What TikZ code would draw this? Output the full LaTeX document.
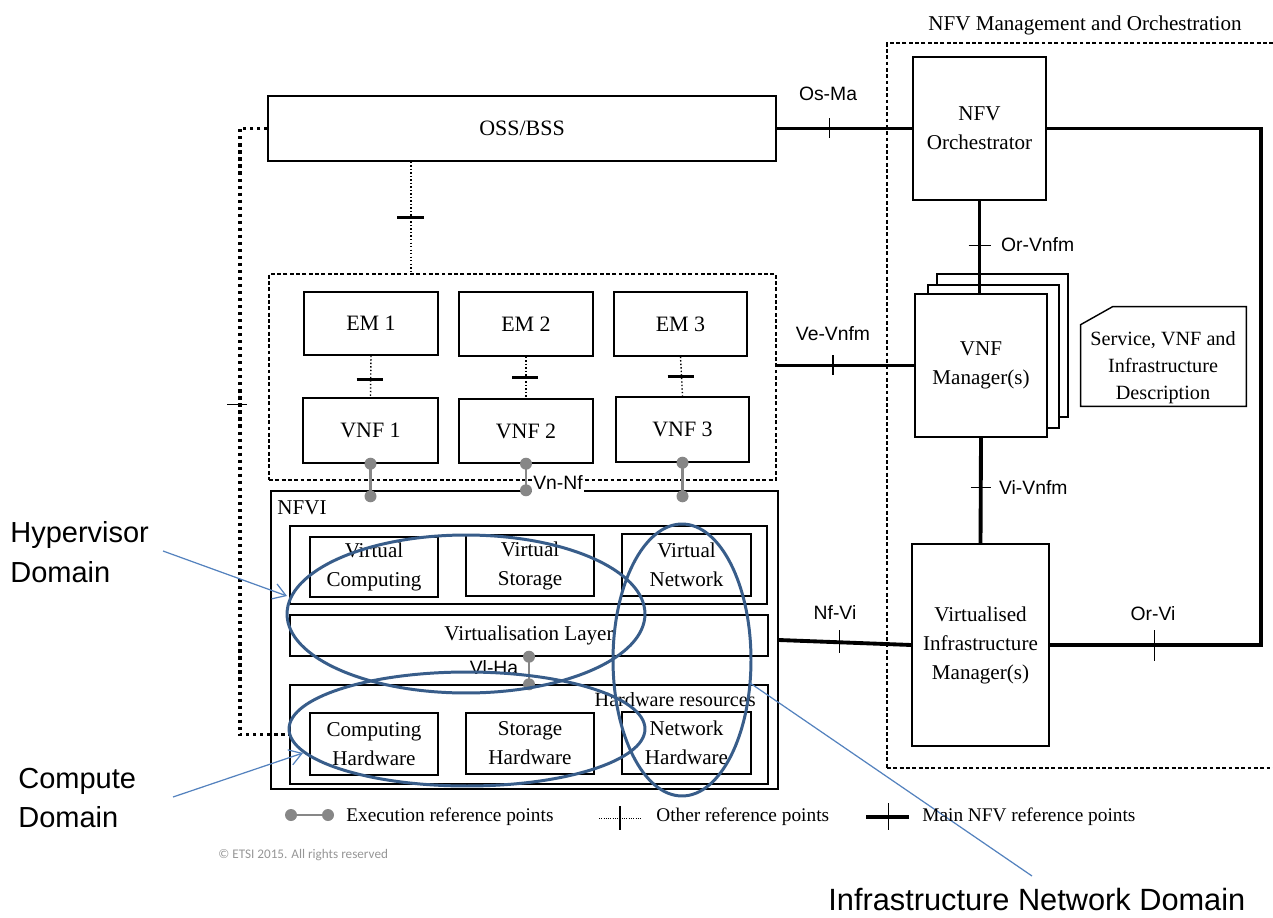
\documentclass[tikz,border=0pt]{standalone}
\usepackage{fontspec}
\setmainfont{Liberation Serif}
\newfontfamily\arialf{Liberation Sans}
\newfontfamily\calibf{Carlito}
\usetikzlibrary{arrows.meta,calc}
\definecolor{ellblue}{RGB}{56,93,138}
\definecolor{arrblue}{RGB}{84,130,190}
\definecolor{execgrey}{RGB}{135,135,135}
\definecolor{copygrey}{RGB}{150,150,150}
\newcommand\pbx[7][box]{\node[#1, minimum width={(#5-#3)*0.02cm}, minimum height={(#6-#4)*0.02cm}] (#2) at ({(#3+#5)/2},{(#4+#6)/2}) {#7};}
\begin{document}
\begin{tikzpicture}[x=0.02cm, y=-0.02cm,
  box/.style={draw, line width=0.8pt, fill=white, inner sep=0pt, align=center, font=\fontsize{12}{16.5}\selectfont},
  bigf/.style={font=\fontsize{12.5}{15}\selectfont},
  dbox/.style={draw, line width=0.6pt, dash pattern=on 2.2pt off 1.4pt, inner sep=0pt},
  main/.style={line width=2.2pt},
  otherln/.style={line width=0.8pt, dash pattern=on 0.8pt off 1.2pt},
  otherthick/.style={line width=2pt, dash pattern=on 1.8pt off 2.2pt},
  mtick/.style={line width=0.7pt},
  otick/.style={line width=1.6pt},
  execln/.style={line width=1.6pt, draw=execgrey},
  lab/.style={font=\arialf\fontsize{11}{13}\selectfont, inner sep=1pt},
  txt/.style={font=\fontsize{11}{13}\selectfont, inner sep=0pt},
  ell/.style={draw=ellblue, line width=1.7pt},
  darrow/.style={draw=arrblue, line width=0.7pt, -{Straight Barb[length=7pt,width=9pt]}},
  dom/.style={font=\arialf\fontsize{16.5}{22.7}\selectfont, align=left, inner sep=0pt}
]
\useasboundingbox (0,0) rectangle (1273,918);

% ---- MANO frame
\pbx[dbox]{MANO}{887}{43}{1290}{768}{}
\node[font=\fontsize{12}{14}\selectfont, inner sep=0pt] (manot) at (1085,25) {NFV Management and Orchestration};

% ---- left column
\pbx[box,bigf]{OSS}{268}{96}{776}{161}{OSS/BSS}
\pbx[dbox]{EMg}{269}{274}{776}{480}{}
\pbx[box,bigf]{EM1}{304}{292}{438}{355}{EM 1}
\pbx[box,bigf]{EM2}{459}{292}{593}{356}{EM 2}
\pbx[box,bigf]{EM3}{614}{292}{747}{356}{EM 3}
\pbx[box,bigf]{VNF1}{303}{398}{438}{463}{VNF 1}
\pbx[box,bigf]{VNF2}{459}{399}{593}{463}{VNF 2}
\pbx[box,bigf]{VNF3}{616}{397}{749}{462}{VNF 3}

\pbx{NFVI}{271}{491}{778}{789}{}
\node[font=\fontsize{12}{14}\selectfont, inner sep=0pt, anchor=west] (nfvil) at (277,508) {NFVI};
\pbx{VRow}{290}{526}{767}{604}{}
\pbx{VC}{310}{537}{438}{597}{Virtual\\Computing}
\pbx{VS}{466}{535}{594}{596}{Virtual\\Storage}
\pbx{VN}{622}{534}{751}{596}{Virtual\\Network}
\pbx{VL}{290}{615}{768}{656}{Virtualisation Layer}
\pbx{HW}{290}{685}{768}{784}{}
\pbx{CH}{310}{713}{438}{775}{Computing\\Hardware}
\pbx{SH}{466}{713}{594}{774}{Storage\\Hardware}
\pbx{NH}{622}{712}{751}{774}{Network\\Hardware}
\node[font=\fontsize{11.5}{13}\selectfont, inner sep=0pt, anchor=east] (hwl) at (756,700) {Hardware resources};

% ---- MANO contents
\pbx{Orch}{913}{57}{1046}{200}{NFV\\Orchestrator}
\pbx{VNFMc}{937}{274}{1068}{417}{}
\pbx{VNFMb}{928}{285}{1059}{428}{}
\pbx{VNFM}{915}{294}{1047}{437}{VNF\\Manager(s)}
\pbx{VIM}{912}{544}{1049}{746}{Virtualised\\Infrastructure\\Manager(s)}
\node[inner sep=0pt, minimum width={165*0.02cm}, minimum height={99*0.02cm}] (SVD) at (1163.5,356.5) {};
\draw[line width=0.8pt] ($(SVD.north west)+(0,18)$) -- ($(SVD.north west)+(32,0)$) -- (SVD.north east) -- (SVD.south east) -- (SVD.south west) -- cycle;
\node[align=center, inner sep=0pt, font=\fontsize{11.5}{15.3}\selectfont] (SVDt) at (1163,368) {Service, VNF and\\Infrastructure\\Description};

% ---- main reference points
\coordinate (rc) at (1261,0);
\draw[main] (OSS.east) -- coordinate[pos=0.387] (tOsMa) (Orch.west);
\draw[main] (Orch.east) -- (Orch.east -| rc) -- (VIM.east -| rc) -- coordinate[pos=0.505] (tOrVi) (VIM.east);
\draw[main] (Orch.south) -- coordinate[pos=0.48] (tOrVnfm) (Orch.south |- VNFM.north);
\draw[main] (EMg.east |- VNFM.west) -- coordinate[pos=0.41] (tVe) (VNFM.west);
\draw[main] (VNFM.south) -- coordinate[pos=0.47] (tVi) (VIM.north);
\draw[main] (NFVI.east) -- coordinate[pos=0.46] (tNf) (VIM.west);
\draw[mtick] (tOsMa) ++(0,-10) -- ++(0,20);
\draw[mtick] (tOrVi) ++(0,-15) -- ++(0,31);
\draw[mtick] (tOrVnfm) ++(-11,0) -- ++(22,0);
\draw[mtick] (tVe) ++(0,-10) -- ++(0,20);
\draw[mtick] (tVi) ++(-10,0) -- ++(20,0);
\draw[mtick] (tNf) ++(0,-12) -- ++(0,23);
\node[lab] (lOsMa) at (828,94) {Os-Ma};
\node[lab, anchor=west] (lOrVnfm) at (999,245) {Or-Vnfm};
\node[lab] (lVe) at (833,334) {Ve-Vnfm};
\node[lab, anchor=west] (lVi) at (997,487) {Vi-Vnfm};
\node[lab] (lNf) at (835,612) {Nf-Vi};
\node[lab] (lOrVi) at (1153,614) {Or-Vi};

% ---- other reference points
\coordinate (oc) at (411,0);
\coordinate (lc) at (240,0);
\draw[otherln] (OSS.south -| oc) -- coordinate[pos=0.5] (tOE) (EMg.north -| oc);
\draw[otherln] (EM1.south) -- coordinate[pos=0.57] (tE1) (VNF1.north);
\draw[otherln] (EM2.south) -- coordinate[pos=0.5] (tE2) (VNF2.north);
\draw[otherln] (EM3.south) -- coordinate[pos=0.5] (tE3) (VNF3.north);
\draw[otick] (tOE) ++(-14,0) -- ++(27,0);
\draw[otick] (tE1) ++(-14,0) -- ++(26,0);
\draw[otick] (tE2) ++(-14,0) -- ++(26,0);
\draw[otick] (tE3) ++(-14,0) -- ++(26,0);
\draw[otherthick] (OSS.west) -- (OSS.west -| lc) -- coordinate[pos=0.456] (tL) (HW.west -| lc) -- (HW.west);
\draw[mtick] (tL) ++(-13,0) -- ++(20,0);

% ---- execution reference points
\draw[execln] (VNF1.south) -- ($(VNF1.south |- NFVI.north)+(0,6)$) coordinate (e1b);
\draw[execln] (VNF2.south) -- (VNF2.south |- NFVI.north) coordinate (e2b);
\draw[execln] (VNF3.south) -- ($(VNF3.south |- NFVI.north)+(0,6)$) coordinate (e3b);
\draw[execln] (VL.south) -- (VL.south |- HW.north) coordinate (e4b);
\fill[execgrey] (VNF1.south) circle[radius=0.12cm] (e1b) circle[radius=0.12cm]
  (VNF2.south) circle[radius=0.12cm] (e2b) circle[radius=0.12cm]
  (VNF3.south) circle[radius=0.12cm] (e3b) circle[radius=0.12cm]
  (VL.south) circle[radius=0.12cm] (e4b) circle[radius=0.12cm];
\node[lab, fill=white, inner sep=1pt] (lVnNf) at (558,483) {Vn-Nf};
\node[lab] (lViHa) at (494,668) {Vl-Ha};

% ---- domains
\draw[ell] (466,614) ellipse [x radius=3.58cm, y radius=1.58cm];
\draw[ell] (467,729) ellipse [x radius=3.56cm, y radius=1.14cm];
\draw[ell] (682,660) ellipse [x radius=1.38cm, y radius=2.72cm];

\node[dom, anchor=west] (hyp) at (10,552) {Hypervisor\\Domain};
\node[dom, anchor=west] (comp) at (18,798) {Compute\\Domain};
\node[font=\arialf\fontsize{17.5}{21}\selectfont, anchor=base west, inner sep=0pt] (infra) at (828,910) {Infrastructure Network Domain};
\coordinate (hypS) at (163,551); \coordinate (hypE) at (287,596);
\coordinate (compS) at (173,797); \coordinate (compE) at (303,753);
\coordinate (infS) at (1032,876); \coordinate (infE) at (750,683);
\draw[darrow] (hypS) -- (hypE);
\draw[darrow] (compS) -- (compE);
\draw[draw=arrblue, line width=0.7pt] (infS) -- (infE);

% ---- legend
\coordinate (lg1a) at (291,815); \coordinate (lg1b) at (328,815);
\draw[execln] (lg1a) -- (lg1b);
\fill[execgrey] (lg1a) circle[radius=0.12cm] (lg1b) circle[radius=0.12cm];
\node[txt, anchor=west] (lgt1) at (346,817) {Execution reference points};
\coordinate (lg2a) at (599,818); \coordinate (lg2b) at (642,818);
\draw[line width=0.5pt, dash pattern=on 0.5pt off 0.8pt] (lg2a) -- coordinate[pos=0.49] (lg2t) (lg2b);
\draw[line width=1.2pt] (lg2t) ++(0,-12) -- ++(0,24);
\node[txt, anchor=west] (lgt2) at (656,817) {Other reference points};
\coordinate (lg3a) at (866,817); \coordinate (lg3b) at (909,817);
\draw[line width=2.3pt] (lg3a) -- coordinate[pos=0.53] (lg3t) (lg3b);
\draw[mtick] (lg3t) ++(0,-14) -- ++(0,27);
\node[txt, anchor=west] (lgt3) at (922,817) {Main NFV reference points};

\node[font=\calibf\fontsize{7.5}{9}\selectfont, text=copygrey, anchor=west, inner sep=0pt] (copy) at (218,855) {© ETSI 2015. All rights reserved};
\end{tikzpicture}
\end{document}
